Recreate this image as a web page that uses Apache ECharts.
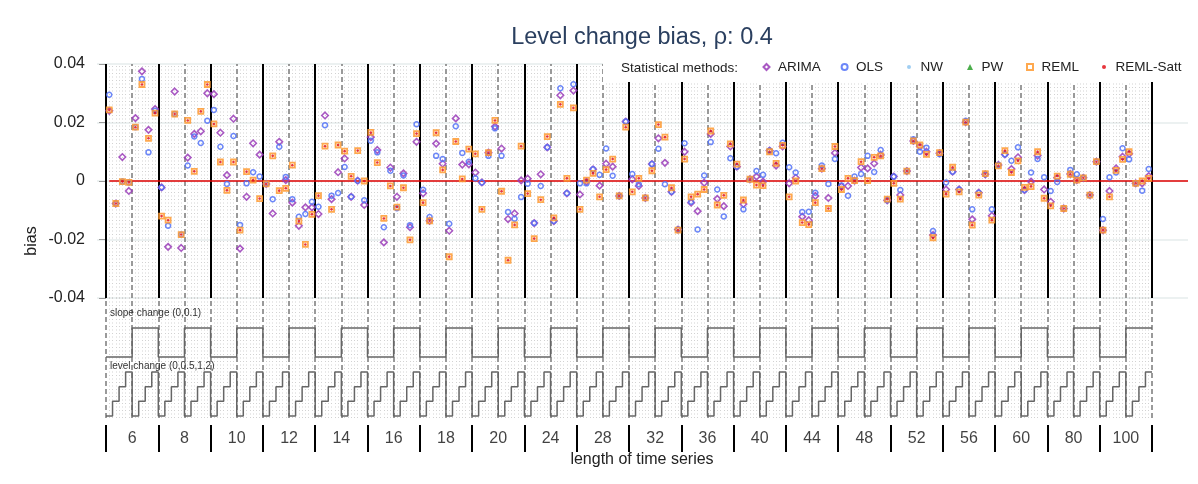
<!DOCTYPE html>
<html>
<head>
<meta charset="utf-8">
<script src="https://cdn.jsdelivr.net/npm/echarts@6/dist/echarts.min.js"></script>
<style>
html,body{margin:0;padding:0;background:#fff;}
#chart{width:1198px;height:484px;}
</style>
</head>
<body>
<div id="chart"></div>
<script>
// ---------------- data ----------------
const lengths = [6, 8, 10, 12, 14, 16, 18, 20, 24, 28, 32, 36, 40, 44, 48, 52, 56, 60, 80, 100];
const slopeChanges = [0, 0.1];
const levelChanges = [0, 0.5, 1, 2];
const methods = ['ARIMA', 'OLS', 'NW', 'PW', 'REML', 'REML-Satt'];
const yTicks = [-0.04, -0.02, 0, 0.02, 0.04];

// 8 values per series length: slope 0 (level 0,0.5,1,2), slope 0.1 (level 0,0.5,1,2)
const arimaBias = [
  0.024, -0.0077, 0.0082, -0.0034, 0.0215, 0.0375, 0.0175, 0.0246,
  -0.0022, -0.0225, 0.0306, -0.0229, 0.008, 0.0161, 0.017, 0.030,
  0.0297, 0.0165, 0.002, 0.0213, -0.0231, -0.0054, 0.0129, 0.009,
  -0.001, -0.0111, 0.0134, 0.0003, -0.0074, -0.0153, -0.009, -0.009,
  -0.0113, 0.0224, -0.0062, 0.003, 0.0077, -0.0054, 0.0001, -0.0082,
  0.015, 0.0106, -0.021, 0.0046, -0.0054, 0.0026, -0.0158, 0.0134,
  -0.0042, -0.0136, 0.0128, 0.0059, -0.017, 0.0214, 0.0056, 0.0057,
  0.0029, -0.0005, 0.0097, 0.0186, 0.0111, -0.013, -0.0111, 0.0002,
  0.0008, -0.0144, 0.0023, 0.0115, -0.0137, 0.0293, -0.0042, 0.0309,
  -0.0046, -0.0002, 0.004, -0.0016, 0.0059, 0.0049, -0.0051, 0.0203,
  0.0006, -0.0017, -0.0058, 0.0058, 0.0146, 0.0062, -0.0037, -0.0166,
  0.01, -0.0074, -0.0103, -0.0006, 0.0161, -0.0061, -0.0086, 0.0118,
  0.0049, -0.0079, 0.0006, 0.0015, -0.0002, 0.0104, 0.0053, 0.0118,
  -0.0008, 0.0011, -0.0122, -0.0134, -0.0051, 0.0042, -0.0058, 0.0096,
  -0.0019, -0.0017, 0.0001, 0.0046, 0.0043, 0.006, 0.0089, -0.0066,
  0.0015, -0.0048, 0.0034, 0.0137, 0.0118, 0.01, -0.0185, 0.0095,
  -0.0029, 0.0032, -0.0029, 0.0201, -0.0131, -0.004, 0.0023, -0.0119,
  0.0055, 0.0091, 0.0041, 0.0081, -0.0031, -0.0002, 0.0087, -0.0029,
  -0.0071, 0.0011, -0.0094, 0.0024, 0.0003, 0.0011, -0.0048, 0.0066,
  -0.0168, -0.0034, 0.0043, 0.0083, 0.0093, -0.0008, -0.0008, 0.0017
];
const olsBias = [
  0.0295, -0.0077, -0.0002, -0.0005, 0.0184, 0.0349, 0.0098, 0.024,
  -0.0022, -0.0153, 0.0229, -0.0183, 0.0053, 0.0152, 0.013, 0.0206,
  0.0243, 0.0117, -0.001, 0.0154, -0.015, -0.0008, 0.003, 0.0015,
  -0.001, -0.0062, 0.0117, 0.0014, -0.0062, -0.0122, -0.0113, -0.0071,
  -0.0088, 0.0191, -0.005, -0.0041, 0.0048, -0.0054, 0.0001, -0.0066,
  0.0138, 0.0098, -0.0158, 0.0035, -0.0093, 0.0019, -0.0151, 0.0194,
  -0.003, -0.0123, 0.0086, 0.0075, -0.0146, 0.0187, 0.0096, 0.0066,
  0.0009, -0.0005, 0.0086, 0.018, 0.0086, -0.0106, -0.0129, -0.0055,
  -0.0009, -0.0144, -0.0017, 0.0115, -0.0137, 0.0317, -0.0042, 0.0331,
  -0.0008, -0.0008, 0.004, 0.0021, 0.0111, 0.0018, -0.0051, 0.0203,
  0.0024, -0.0011, -0.0058, 0.0058, 0.011, -0.0011, -0.0037, -0.0166,
  0.0129, -0.0071, -0.0166, 0.0019, 0.0133, -0.0029, -0.0121, 0.0078,
  0.0049, -0.0097, 0.0006, 0.0034, 0.0021, 0.0104, 0.0095, 0.0131,
  0.0047, 0.0029, -0.0106, -0.0105, -0.004, 0.0053, -0.001, 0.0075,
  -0.0015, -0.005, 0.0015, 0.0024, 0.0086, 0.0031, 0.0106, -0.0066,
  0.0015, -0.0031, 0.0034, 0.0143, 0.01, 0.0114, -0.0171, 0.0092,
  -0.0005, 0.0032, -0.0029, 0.0206, -0.0097, -0.004, 0.0023, -0.0097,
  0.0055, 0.0091, 0.0069, 0.0115, -0.0031, 0.0029, 0.0075, 0.0013,
  -0.0034, -0.0003, -0.0094, 0.0038, 0.0023, 0.0011, -0.0048, 0.0066,
  -0.013, 0.0013, 0.0029, 0.0112, 0.0074, -0.0008, -0.0033, 0.0041
];
const nwBias = [];
const pwBias = [];
const remlBias = [
  0.0243, -0.0077, -0.0002, -0.0005, 0.0184, 0.033, 0.0146, 0.0232,
  -0.012, -0.0134, 0.0229, -0.0183, 0.0207, 0.0033, 0.0238, 0.033,
  0.0195, 0.0065, -0.0032, 0.0065, -0.0168, 0.0032, 0.0003, -0.006,
  -0.001, 0.0086, -0.0033, -0.0025, 0.0054, -0.0137, -0.0217, -0.0114,
  -0.005, 0.0119, -0.0097, 0.0123, 0.0102, 0.0016, 0.0104, 0.0,
  0.0166, 0.0063, -0.0128, -0.0017, -0.0089, -0.0023, -0.0201, 0.0162,
  -0.0074, -0.0136, 0.0165, 0.0038, -0.0259, 0.0135, 0.0007, 0.0109,
  0.0093, -0.0097, 0.0097, 0.0207, -0.0035, -0.0271, -0.015, 0.0119,
  -0.0043, -0.0197, -0.0064, 0.0152, -0.0126, 0.0262, 0.0009, 0.025,
  -0.0097, 0.0003, 0.0026, -0.0054, 0.0039, 0.0075, -0.0051, 0.0184,
  -0.0037, 0.0009, -0.0058, 0.0035, 0.0193, 0.015, -0.0023, -0.0168,
  0.0075, -0.0054, -0.0045, -0.0029, 0.0171, -0.0082, -0.0049, 0.0127,
  0.0058, -0.0065, 0.0006, -0.0014, -0.0016, 0.01, 0.006, 0.0122,
  -0.0054, 0.0, -0.0142, -0.0149, -0.0074, 0.0042, -0.0094, 0.0118,
  -0.0029, 0.0009, 0.0001, 0.0066, 0.0001, 0.0081, 0.0086, -0.0062,
  -0.0008, -0.0062, 0.0034, 0.0137, 0.0123, 0.0091, -0.0194, 0.0097,
  -0.0045, 0.0047, -0.0037, 0.0201, -0.0151, -0.0048, 0.0025, -0.0134,
  0.0052, 0.0104, 0.0029, 0.0069, -0.0022, -0.0019, 0.01, -0.0059,
  -0.0085, 0.0017, -0.0094, 0.0023, 0.0003, 0.0011, -0.0048, 0.0066,
  -0.0168, -0.0054, 0.0036, 0.0074, 0.01, -0.0008, 0.0, 0.0009
];
const remlSattBias = [
  0.0243, -0.0077, -0.0002, -0.0005, 0.0184, 0.033, 0.0146, 0.0232,
  -0.012, -0.0134, 0.0229, -0.0183, 0.0207, 0.0033, 0.0238, 0.033,
  0.0195, 0.0065, -0.0032, 0.0065, -0.0168, 0.0032, 0.0003, -0.006,
  -0.001, 0.0086, -0.0033, -0.0025, 0.0054, -0.0137, -0.0217, -0.0114,
  -0.005, 0.0119, -0.0097, 0.0123, 0.0102, 0.0016, 0.0104, 0.0,
  0.0166, 0.0063, -0.0128, -0.0017, -0.0089, -0.0023, -0.0201, 0.0162,
  -0.0074, -0.0136, 0.0165, 0.0038, -0.0259, 0.0135, 0.0007, 0.0109,
  0.0093, -0.0097, 0.0097, 0.0207, -0.0035, -0.0271, -0.015, 0.0119,
  -0.0043, -0.0197, -0.0064, 0.0152, -0.0126, 0.0262, 0.0009, 0.025,
  -0.0097, 0.0003, 0.0026, -0.0054, 0.0039, 0.0075, -0.0051, 0.0184,
  -0.0037, 0.0009, -0.0058, 0.0035, 0.0193, 0.015, -0.0023, -0.0168,
  0.0075, -0.0054, -0.0045, -0.0029, 0.0171, -0.0082, -0.0049, 0.0127,
  0.0058, -0.0065, 0.0006, -0.0014, -0.0016, 0.01, 0.006, 0.0122,
  -0.0054, 0.0, -0.0142, -0.0149, -0.0074, 0.0042, -0.0094, 0.0118,
  -0.0029, 0.0009, 0.0001, 0.0066, 0.0001, 0.0081, 0.0086, -0.0062,
  -0.0008, -0.0062, 0.0034, 0.0137, 0.0123, 0.0091, -0.0194, 0.0097,
  -0.0045, 0.0047, -0.0037, 0.0201, -0.0151, -0.0048, 0.0025, -0.0134,
  0.0052, 0.0104, 0.0029, 0.0069, -0.0022, -0.0019, 0.01, -0.0059,
  -0.0085, 0.0017, -0.0094, 0.0023, 0.0003, 0.0011, -0.0048, 0.0066,
  -0.0168, -0.0054, 0.0036, 0.0074, 0.01, -0.0008, 0.0, 0.0009
];

// ---------------- layout helpers ----------------
const nLev = levelChanges.length;
const perGroup = slopeChanges.length * nLev;
const nSlots = lengths.length * perGroup;
const X_MIN = -1.3767, X_MAX = 165.507;
const FONT = '"Liberation Sans", Arial, sans-serif';

const toPts = arr => arr.map((v, i) => [i + 0.5, v]);

// vertical reference lines
const solidX = [], dashedX = [], dottedX = [];
for (let k = 0; k <= nSlots * 2; k++) {
  const x = k / 2;
  if (k % (perGroup * 2) === 0) solidX.push(x);
  else if (k % (nLev * 2) === 0) dashedX.push(x);
  else dottedX.push(x);
}
const vline = (xs, style, gi, z) => ({
  type: 'line', xAxisIndex: gi, yAxisIndex: gi, data: [], silent: true, z: z,
  markLine: { silent: true, symbol: ['none', 'none'], label: { show: false }, animation: false,
    lineStyle: style, emphasis: { disabled: true }, data: xs.map(x => ({ xAxis: x })) }
});
const dotStyle = { color: '#d2d2d2', width: 1, type: [1, 2.5] };
const dashStyle = { color: '#7a7a7a', width: 1.5, type: [5, 3] };
const solidStyle = { color: '#000', width: 2, type: 'solid' };

// step lines of the lower panel (y in panel units)
const slopeBase = 61, slopeStep = 29, levelBase = 2, levelStep = 14.67;
const slopeLine = [], levelLine = [];
for (let g = 0; g < lengths.length; g++) {
  for (let h = 0; h < slopeChanges.length; h++) {
    for (let l = 0; l < nLev; l++) {
      const s = g * perGroup + h * nLev + l;
      const ys = slopeBase + h * slopeStep;
      const yl = levelBase + l * levelStep;
      slopeLine.push([s, ys], [s + 1, ys]);
      levelLine.push([s, yl], [s + 1, yl]);
    }
  }
}
const groupLabels = lengths.map((L, g) => [g * perGroup + perGroup / 2, 0.5, String(L)]);

const colors = { ARIMA: '#9a3cb8', OLS: '#5272f7', NW: '#8fc6f0', PW: '#2ca02c', REML: '#ff9a30', 'REML-Satt': '#e3131b' };
const pointOpacity = 0.85;
const scatter = (name, data, symbol, size, style, z) => ({
  name, type: 'scatter', xAxisIndex: 0, yAxisIndex: 0, data: toPts(data), symbol, symbolSize: size, z,
  itemStyle: Object.assign({ opacity: pointOpacity }, style), emphasis: { disabled: true }
});

const legendCenters = [765.5, 843.6, 909, 970, 1029, 1104];
const legendIcon = [6, 6, 4, 6, 6, 4];

const option = {
  animation: false,
  backgroundColor: '#fff',
  textStyle: { fontFamily: FONT },
  grid: [
    { left: 97, right: 10, top: 64, height: 234 },
    { left: 97, right: 10, top: 298, height: 120 },
    { left: 97, right: 10, top: 425, height: 27 }
  ],
  xAxis: [0, 1, 2].map(i => ({ type: 'value', gridIndex: i, min: X_MIN, max: X_MAX, show: false })),
  yAxis: [
    { type: 'value', gridIndex: 0, min: -0.04, max: 0.04, interval: 0.02,
      axisLine: { show: false },
      axisTick: { show: true, length: 7, lineStyle: { color: '#9a9a9a', width: 1 } },
      axisLabel: { fontSize: 16, color: '#222', margin: 12, fontFamily: FONT,
        formatter: v => { const r = Math.round(v * 100) / 100; return yTicks.indexOf(r) >= 0 ? String(r) : ''; } },
      splitLine: { show: true, lineStyle: { color: '#e6eded', width: 1.5 } } },
    { type: 'value', gridIndex: 1, min: 0, max: 120, show: false },
    { type: 'value', gridIndex: 2, min: 0, max: 1, show: false }
  ],
  legend: methods.map((m, i) => ({
    data: [m], left: legendCenters[i] - legendIcon[i] / 2, top: 60, padding: 0,
    itemWidth: legendIcon[i], itemHeight: legendIcon[i],
    selectedMode: false, z: 30,
    textStyle: { fontSize: 13.5, color: '#222', fontFamily: FONT, padding: [0, 0, 0, 11.5 - legendIcon[i] / 2 - 5] }
  })),
  graphic: {
    elements: [
      { type: 'rect', z: 6, silent: true, shape: { x: 603, y: 50, width: 595, height: 32 }, style: { fill: '#fff' } },
      { type: 'text', z: 60, x: 642, y: 38, style: { text: 'Level change bias, ρ: 0.4', fill: '#2a3f5f', font: '23.5px ' + FONT, textAlign: 'center', textVerticalAlign: 'middle' } },
      { type: 'text', z: 60, x: 621, y: 68, style: { text: 'Statistical methods:', fill: '#222', font: '13.5px ' + FONT, textAlign: 'left', textVerticalAlign: 'middle' } },
      { type: 'text', x: 32, y: 241, rotation: Math.PI / 2, style: { text: 'bias', fill: '#222', font: '16px ' + FONT, textAlign: 'center', textVerticalAlign: 'middle' } },
      { type: 'text', x: 642, y: 460, style: { text: 'length of time series', fill: '#222', font: '16px ' + FONT, textAlign: 'center', textVerticalAlign: 'middle' } },
      { type: 'text', x: 110, y: 313, z: 10, style: { text: 'slope change (0,0.1)', fill: '#333', font: '10px ' + FONT, textAlign: 'left', textVerticalAlign: 'middle' } },
      { type: 'text', x: 110, y: 366, z: 10, style: { text: 'level change (0,0.5,1,2)', fill: '#333', font: '10px ' + FONT, textAlign: 'left', textVerticalAlign: 'middle' } }
    ]
  },
  series: [
    vline(dottedX, dotStyle, 0, 1),
    vline(dashedX, dashStyle, 0, 2),
    vline(solidX, solidStyle, 0, 3),
    { type: 'line', xAxisIndex: 0, yAxisIndex: 0, data: [], silent: true, z: 4,
      markLine: { silent: true, symbol: ['none', 'none'], label: { show: false },
        lineStyle: { color: '#e00000', width: 1.5, type: 'solid' },
        data: [[{ coord: [0.5, 0] }, { coord: [X_MAX, 0] }]] } },
    scatter('ARIMA', arimaBias, 'diamond', 6.5, { color: 'rgba(255,255,255,0)', borderColor: colors.ARIMA, borderWidth: 1.6 }, 10),
    scatter('OLS', olsBias, 'circle', 5, { color: 'rgba(255,255,255,0)', borderColor: colors.OLS, borderWidth: 1.5 }, 11),
    scatter('NW', nwBias, 'circle', 3, { color: colors.NW }, 12),
    scatter('PW', pwBias, 'triangle', 5, { color: colors.PW }, 13),
    scatter('REML', remlBias, 'rect', 5, { color: 'rgba(255,255,255,0)', borderColor: colors.REML, borderWidth: 1.8 }, 14),
    scatter('REML-Satt', remlSattBias, 'circle', 2.6, { color: colors['REML-Satt'] }, 15),
    vline(dottedX, dotStyle, 1, 1),
    vline(dashedX.concat(solidX), dashStyle, 1, 2),
    { type: 'line', xAxisIndex: 1, yAxisIndex: 1, data: slopeLine, showSymbol: false, symbol: 'none', silent: true, z: 5,
      lineStyle: { color: '#666', width: 1.5 } },
    { type: 'line', xAxisIndex: 1, yAxisIndex: 1, data: levelLine, showSymbol: false, symbol: 'none', silent: true, z: 5,
      lineStyle: { color: '#666', width: 1.5 } },
    vline(solidX, { color: '#000', width: 2, type: 'solid' }, 2, 3),
    { type: 'scatter', xAxisIndex: 2, yAxisIndex: 2, data: groupLabels, symbolSize: 1, silent: true,
      itemStyle: { color: 'rgba(0,0,0,0)' },
      label: { show: true, position: 'inside', formatter: p => p.data[2], fontSize: 16, color: '#111', fontFamily: FONT } }
  ]
};

const chart = echarts.init(document.getElementById('chart'), null, { renderer: 'canvas' });
chart.setOption(option);
</script>
</body>
</html>
